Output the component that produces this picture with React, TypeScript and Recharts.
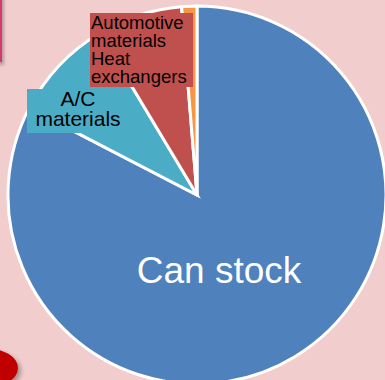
import { PieChart, Pie, Cell } from "recharts"

// product share, clockwise from 12 o'clock
const segments = ["Can stock", "A/C materials", "Automotive materials Heat exchangers", "Other"]
const shares = [82.6, 8.8, 7.3, 1.3]
const colors = ["#4f81bd", "#4bacc6", "#c0504d", "#f79646"]

const data = segments.map((name, i) => ({ name, value: shares[i] }))

const FONT = "'Liberation Sans', Arial, sans-serif"

const SliceLabel = (props: any) => {
  const { cx, cy, index } = props
  if (index === 0) {
    return (
      <text x={cx + 22} y={cy + 88} textAnchor="middle" fill="#fff" fontSize={37} fontFamily={FONT}>
        Can stock
      </text>
    )
  }
  if (index === 1) {
    return (
      <g>
        <rect x={cx - 170} y={cy - 106} width={101} height={44} fill="#4bacc6" />
        <text x={cx - 119} y={cy - 89} textAnchor="middle" fill="#000" fontSize={21} fontFamily={FONT}>A/C</text>
        <text x={cx - 119} y={cy - 69} textAnchor="middle" fill="#000" fontSize={21} fontFamily={FONT}>materials</text>
      </g>
    )
  }
  if (index === 2) {
    const lines = ["Automotive", "materials", "Heat", "exchangers"]
    return (
      <g>
        <rect x={cx - 107} y={cy - 182} width={103} height={74} fill="#c0504d" />
        {lines.map((l, i) => (
          <text key={l} x={cx - 106} y={cy - 166.5 + i * 18} fill="#000" fontSize={18.5} fontFamily={FONT}>
            {l}
          </text>
        ))}
      </g>
    )
  }
  return null
}

export default function App() {
  return (
    <div style={{ position: "fixed", left: 0, top: 0, width: 385, height: 380, background: "#f2cdcd", overflow: "hidden" }}>
      <div
        style={{
          position: "absolute", left: -100, top: -10, width: 98, height: 68,
          border: "2px solid #d6386c", boxShadow: "2px 3px 3px rgba(0,0,0,0.25)",
        }}
      />
      <div
        style={{
          position: "absolute", left: -48, top: 348, width: 66, height: 40, borderRadius: "50%",
          background: "#c00000", boxShadow: "3px 3px 4px rgba(0,0,0,0.3)",
        }}
      />
      <PieChart width={385} height={380} margin={{ top: 0, right: 0, bottom: 0, left: 0 }} style={{ position: "absolute", left: 0, top: 0 }}>
        <Pie
          data={data}
          dataKey="value"
          cx={197}
          cy={195}
          outerRadius={189}
          startAngle={90}
          endAngle={-270}
          stroke="#fff"
          strokeWidth={3}
          label={SliceLabel}
          labelLine={false}
          isAnimationActive={false}
        >
          {data.map((d, i) => (
            <Cell key={d.name} fill={colors[i]} />
          ))}
        </Pie>
      </PieChart>
    </div>
  )
}
